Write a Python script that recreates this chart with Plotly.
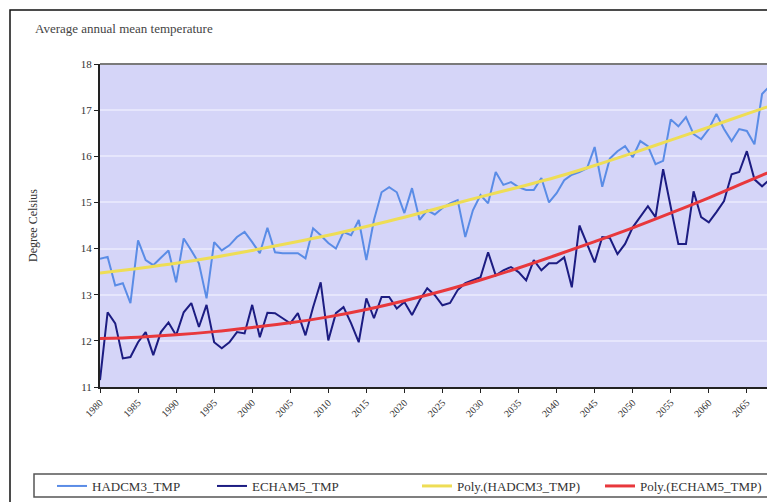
import plotly.graph_objects as go

# yearly values
years = list(range(1980, 2070))

hadcm3_tmp = [
    13.78, 13.82, 13.20, 13.25, 12.82, 14.18, 13.75, 13.64, 13.80, 13.96,
    13.27, 14.22, 13.96, 13.68, 12.92, 14.14, 13.96, 14.07, 14.25, 14.36,
    14.14, 13.90, 14.45, 13.92, 13.90, 13.90, 13.90, 13.79, 14.44, 14.29,
    14.12, 14.00, 14.36, 14.29, 14.62, 13.75, 14.62, 15.22, 15.33, 15.22,
    14.77, 15.31, 14.62, 14.83, 14.74, 14.88, 14.98, 15.05, 14.25, 14.83,
    15.16, 14.98, 15.66, 15.38, 15.44, 15.33, 15.27, 15.27, 15.53, 15.00,
    15.20, 15.48, 15.60, 15.66, 15.74, 16.20, 15.34, 15.95, 16.11, 16.22,
    15.98, 16.33, 16.22, 15.83, 15.90, 16.80, 16.65, 16.85, 16.48, 16.37,
    16.59, 16.92, 16.59, 16.33, 16.59, 16.55, 16.26, 17.35, 17.52, 17.30,
]

echam5_tmp = [
    11.15, 12.62, 12.38, 11.62, 11.65, 11.97, 12.19, 11.69, 12.19, 12.40,
    12.12, 12.62, 12.82, 12.30, 12.78, 11.97, 11.84, 11.97, 12.19, 12.16,
    12.78, 12.08, 12.61, 12.60, 12.49, 12.38, 12.60, 12.12, 12.73, 13.27,
    12.01, 12.60, 12.73, 12.38, 11.97, 12.92, 12.49, 12.95, 12.95, 12.70,
    12.84, 12.56, 12.88, 13.14, 12.99, 12.77, 12.82, 13.10, 13.25, 13.31,
    13.38, 13.92, 13.42, 13.53, 13.60, 13.49, 13.31, 13.75, 13.53, 13.68,
    13.68, 13.81, 13.16, 14.50, 14.12, 13.70, 14.25, 14.23, 13.88, 14.10,
    14.46, 14.68, 14.92, 14.68, 15.72, 14.90, 14.10, 14.10, 15.24, 14.68,
    14.57, 14.79, 15.03, 15.61, 15.66, 16.11, 15.50, 15.35, 15.50, 16.20,
]

# polynomial trend lines, every 5 years
trend_years = list(range(1980, 2075, 5))
poly_hadcm3 = [13.47, 13.57, 13.68, 13.81, 13.96, 14.12, 14.29, 14.48, 14.68, 14.90,
               15.12, 15.33, 15.55, 15.80, 16.07, 16.35, 16.63, 16.92, 17.20]
poly_echam5 = [12.05, 12.08, 12.13, 12.20, 12.29, 12.39, 12.52, 12.68, 12.87, 13.08,
               13.32, 13.58, 13.86, 14.15, 14.45, 14.77, 15.10, 15.45, 15.80]

# the page body adds an 8px offset, so the figure is drawn 8px smaller
OFF = 8
W, H = 775 - OFF, 502 - OFF
L, R, T, B = 100 - OFF, 0, 64 - OFF, 502 - 387


def px_x(p):
    # p is a pixel position in the reference picture
    return (p - OFF - L) / (W - L - R)


def px_y(p):
    return 1 - (p - OFF - T) / (H - T - B)


serif = "Liberation Serif"
txt = "#333333"

fig = go.Figure()
fig.add_trace(go.Scatter(x=years, y=hadcm3_tmp, mode="lines", name="HADCM3_TMP",
                         line=dict(color="#5A8CE6", width=2), legend="legend"))
fig.add_trace(go.Scatter(x=years, y=echam5_tmp, mode="lines", name="ECHAM5_TMP",
                         line=dict(color="#1C1C82", width=2), legend="legend2"))
fig.add_trace(go.Scatter(x=trend_years, y=poly_hadcm3, mode="lines", name="Poly.(HADCM3_TMP)",
                         line=dict(color="#EEDD55", width=3, shape="spline"), legend="legend3"))
fig.add_trace(go.Scatter(x=trend_years, y=poly_echam5, mode="lines", name="Poly.(ECHAM5_TMP)",
                         line=dict(color="#E8383C", width=3, shape="spline"), legend="legend4"))


def leg(xpx):
    return dict(orientation="h", x=px_x(xpx), xanchor="left",
                y=px_y(486), yanchor="middle", bgcolor="rgba(0,0,0,0)",
                font=dict(family=serif, size=13, color=txt), itemwidth=30)


fig.update_layout(
    width=W, height=H,
    margin=dict(l=L, r=R, t=T, b=B, autoexpand=False),
    paper_bgcolor="white",
    plot_bgcolor="#D5D5F8",
    font=dict(family=serif, size=10, color=txt),
    showlegend=True,
    legend=leg(52),
    legend2=leg(212),
    legend3=leg(417),
    legend4=leg(600),
    xaxis=dict(
        range=[1980, 2068.7],
        tickmode="array",
        tickvals=list(range(1980, 2070, 5)),
        ticktext=[str(y) for y in range(1980, 2070, 5)],
        tickangle=-45,
        ticks="outside", ticklen=4, tickcolor="#222222",
        showgrid=False, zeroline=False, automargin=False,
        showline=True, linecolor="#222222", linewidth=2,
        tickfont=dict(family=serif, size=10, color=txt),
    ),
    yaxis=dict(
        range=[11, 18],
        dtick=1,
        ticks="outside", ticklen=4, tickcolor="#222222",
        showgrid=True, gridcolor="#E6E6FC", gridwidth=2,
        zeroline=False, automargin=False,
        showline=True, linecolor="#222222", linewidth=2,
        tickfont=dict(family=serif, size=11, color=txt),
    ),
)

# top border of the plot area
fig.add_shape(type="line", xref="paper", yref="paper", x0=0, x1=1, y0=1, y1=1,
              line=dict(color="#7A7A7A", width=2))
# outer chart border
fig.add_shape(type="rect", xref="paper", yref="paper",
              x0=px_x(10), x1=px_x(800), y0=px_y(10), y1=px_y(530),
              line=dict(color="#111111", width=1.5), layer="below")
# legend box
fig.add_shape(type="rect", xref="paper", yref="paper",
              x0=px_x(34), x1=px_x(772), y0=px_y(474), y1=px_y(497),
              line=dict(color="#555555", width=1.5), layer="below")

fig.add_annotation(text="Average annual mean temperature", xref="paper", yref="paper",
                   x=px_x(33), y=px_y(28), xanchor="left", yanchor="middle",
                   showarrow=False, font=dict(family=serif, size=13, color="#444444"))
fig.add_annotation(text="Degree Celsius", xref="paper", yref="paper", textangle=-90,
                   x=px_x(33), y=px_y(226), xanchor="center", yanchor="middle",
                   showarrow=False, font=dict(family=serif, size=12, color=txt))

fig.write_html("out.html")
